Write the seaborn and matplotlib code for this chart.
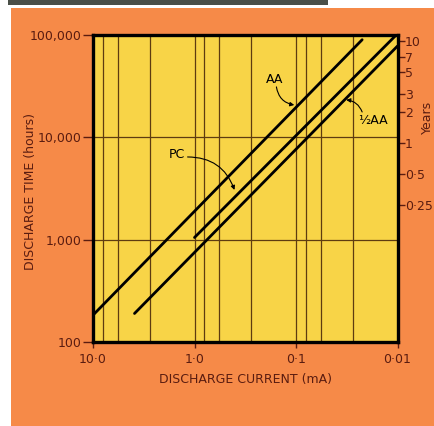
import numpy as np
import pandas as pd
import matplotlib
matplotlib.use('Agg')
import matplotlib.pyplot as plt
from matplotlib.patches import Rectangle
from matplotlib.ticker import FixedLocator, FixedFormatter, NullLocator
import seaborn as sns

# discharge lines (current mA, time hours)
aa_current = [10.0, 0.0223]
aa_hours = [183, 89900]
pc_current = [1.0, 0.0103]
pc_hours = [1050, 100000]
half_current = [3.9, 0.01]
half_hours = [190, 78000]

x_ticks = [10, 1, 0.1, 0.01]
x_labels = ['10·0', '1·0', '0·1', '0·01']
x_grid = [8, 5.7, 2.75, 0.8, 0.57, 0.275, 0.08, 0.057, 0.0275]
y_ticks = [100, 1000, 10000, 100000]
y_labels = ['100', '1,000', '10,000', '100,000']
year_ticks = [10, 7, 5, 3, 2, 1, 0.5, 0.25]
year_labels = ['10', '7', '5', '3', '2', '1', '0·5', '0·25']
HOURS_PER_YEAR = 8760

df = pd.concat([
    pd.DataFrame({'current': aa_current, 'hours': aa_hours, 'battery': 'AA'}),
    pd.DataFrame({'current': pc_current, 'hours': pc_hours, 'battery': 'PC'}),
    pd.DataFrame({'current': half_current, 'hours': half_hours, 'battery': '½AA'}),
])

orange = '#f68a48'
yellow = '#f8d447'
ink = '#5a1c10'
gridc = '#5e3c10'

sns.set_style('ticks')
plt.rcParams['font.family'] = ['DejaVu Sans']

fig = plt.figure(figsize=(4.34, 4.26), dpi=100)
fig.patch.set_facecolor('white')
fig.patches.append(Rectangle((11 / 434, 0), 1, 1 - 8 / 426, transform=fig.transFigure,
                             facecolor=orange, edgecolor='none', zorder=-10))
fig.patches.append(Rectangle((8 / 434, 1 - 5 / 426), 320 / 434, 5 / 426, transform=fig.transFigure,
                             facecolor='#4a4f48', edgecolor='none', zorder=-10))

ax = fig.add_axes([93 / 434, 1 - 342 / 426, 304.5 / 434, 307 / 426])
ax.set_facecolor(yellow)

sns.lineplot(data=df, x='current', y='hours', hue='battery', units='battery',
             estimator=None, sort=False, palette=['black'] * 3, linewidth=2.0,
             legend=False, ax=ax, zorder=3)

ax.set_xscale('log')
ax.set_yscale('log')
ax.set_xlim(10, 0.01)
ax.set_ylim(100, 100000)

ax.xaxis.set_major_locator(FixedLocator(x_ticks))
ax.xaxis.set_major_formatter(FixedFormatter(x_labels))
ax.xaxis.set_minor_locator(FixedLocator(x_grid))
ax.yaxis.set_major_locator(FixedLocator(y_ticks))
ax.yaxis.set_major_formatter(FixedFormatter(y_labels))
ax.yaxis.set_minor_locator(NullLocator())

ax.grid(which='both', axis='x', color=gridc, linewidth=0.9)
ax.grid(which='major', axis='y', color=gridc, linewidth=0.9)
ax.tick_params(axis='x', which='major', length=4, width=1, color=ink, labelcolor=ink,
               labelsize=9, pad=4)
ax.tick_params(axis='x', which='minor', length=0)
ax.tick_params(axis='y', length=7, width=1, color=ink, labelcolor=ink, labelsize=9, pad=1)

for s in ax.spines.values():
    s.set_linewidth(2.4)
    s.set_color('black')
    s.set_zorder(5)

ax.set_xlabel('DISCHARGE CURRENT (mA)', color=ink, fontsize=9, labelpad=5)
ax.set_ylabel('DISCHARGE TIME (hours)', color=ink, fontsize=9)
ax.yaxis.set_label_coords(-0.184, 0.49)

sec = ax.secondary_yaxis('right', functions=(lambda h: h / HOURS_PER_YEAR,
                                             lambda y: y * HOURS_PER_YEAR))
sec.yaxis.set_major_locator(FixedLocator(year_ticks))
sec.yaxis.set_major_formatter(FixedFormatter(year_labels))
sec.yaxis.set_minor_locator(NullLocator())
sec.tick_params(length=5, width=1, color=ink, labelcolor=ink, labelsize=9, pad=0.5)
sec.spines['right'].set_visible(False)
fig.text(427 / 434, 1 - 117 / 426, 'Years', rotation=90, color=ink, fontsize=9,
         ha='center', va='center')

# curve labels with small hand-drawn style arrows
arrow = dict(arrowstyle='-|>', color='black', linewidth=0.8, mutation_scale=6,
             shrinkA=0, shrinkB=0)
ax.text(0.164, 36400, 'AA', color='black', fontsize=9, ha='center', va='center')
ax.annotate('', xy=(0.104, 20700), xytext=(0.156, 31100),
            arrowprops=dict(connectionstyle='arc3,rad=0.35', **arrow))
ax.text(1.50, 6730, 'PC', color='black', fontsize=9, ha='center', va='center')
ax.annotate('', xy=(0.404, 3060), xytext=(1.17, 6430),
            arrowprops=dict(connectionstyle='arc3,rad=-0.35', **arrow))
ax.text(0.0174, 14500, '½AA', color='black', fontsize=9, ha='center', va='center')
ax.annotate('', xy=(0.032, 23200), xytext=(0.0223, 17700),
            arrowprops=dict(connectionstyle='arc3,rad=0.3', **arrow))

fig.savefig('out.png', dpi=100)
